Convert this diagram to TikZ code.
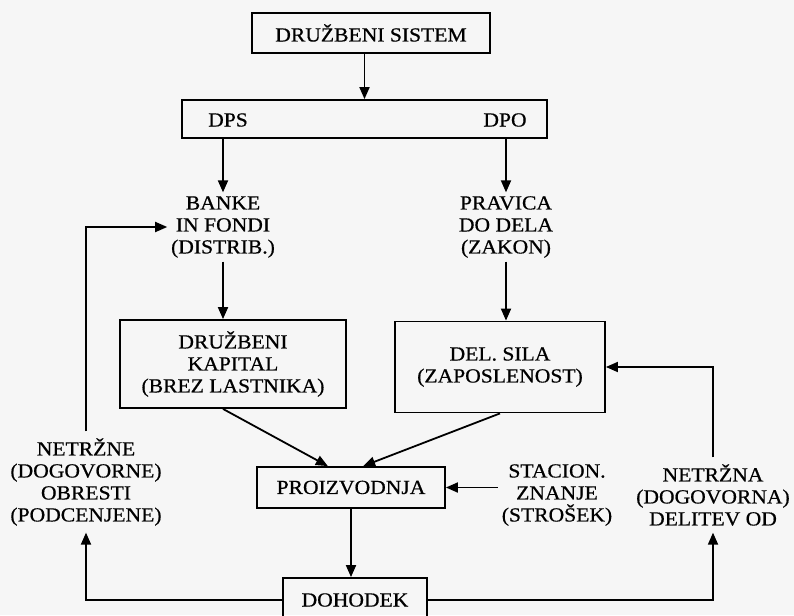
\documentclass[tikz,border=0pt]{standalone}
\usepackage{fontspec}
\setmainfont{Liberation Serif}[FakeStretch=1.08,FakeBold=0.6]
\usetikzlibrary{arrows.meta,calc}
\begin{document}
\begin{tikzpicture}[x=1pt,y=-1pt,
  font=\fontsize{20}{22}\selectfont,
  line width=1.8pt,
  box/.style={draw,rectangle,inner sep=2pt},
  lbl/.style={align=center,inner sep=3pt},
  arr/.style={-{Triangle[length=12pt,width=10pt]}},
  ]
\fill[gray!7] (0,0) rectangle (794,615);
\useasboundingbox (0,0) rectangle (794,615);

\node[box,minimum width=238,minimum height=40] (sis) at (371,33) {DRUŽBENI SISTEM};
\node[box,minimum width=365,minimum height=38] (gov) at (364.5,119) {};
\node[inner sep=0pt] (dps) at (228,120) {DPS};
\node[inner sep=0pt] (dpo) at (505,120) {DPO};

\node[lbl] (banke) at (223,227) {BANKE\\IN FONDI\\(DISTRIB.)};
\node[lbl] (pravica) at (506,227) {PRAVICA\\DO DELA\\(ZAKON)};

\node[box,align=center,minimum width=226,minimum height=88] (dk) at (233,364) {DRUŽBENI\\KAPITAL\\(BREZ LASTNIKA)};
\node[box,align=center,minimum width=210,minimum height=91] (ds) at (500,367) {DEL. SILA\\(ZAPOSLENOST)};

\node[box,minimum width=188,minimum height=41] (proiz) at (351,487.5) {PROIZVODNJA};
\node[lbl] (stacion) at (557,495) {STACION.\\ZNANJE\\(STROŠEK)};
\node[lbl,inner sep=6pt] (netrzna) at (713,495) {NETRŽNA\\(DOGOVORNA)\\DELITEV OD};
\node[lbl,inner sep=6pt] (netrzne) at (86,482) {NETRŽNE\\(DOGOVORNE)\\OBRESTI\\(PODCENJENE)};

\node[box,minimum width=144,minimum height=44] (doh) at (355,600) {DOHODEK};

% connectors
\draw[arr] (sis.south -| gov.north) -- (gov.north);
\draw[arr] (banke.north |- gov.south) -- (banke.north);
\draw[arr] (pravica.north |- gov.south) -- (pravica.north);
\draw[arr] (banke.south) -- (banke.south |- dk.north);
\draw[arr] (pravica.south) -- (pravica.south |- ds.north);
\draw[arr] ($(dk.south west)!0.456!(dk.south east)$) -- ($(proiz.north west)!0.378!(proiz.north east)$);
\draw[arr] (ds.south) -- ($(proiz.north west)!0.564!(proiz.north east)$);
\draw[arr] (stacion.west |- proiz.east) -- (proiz.east);
\draw[arr] (netrzna.north) |- (ds.east);
\draw[arr] (netrzne.north) |- (banke.west);
\draw[arr] (proiz.south) -- (proiz.south |- doh.north);
\draw[arr] (doh.west) -| (netrzne.south);
\draw[arr] (doh.east) -| (netrzna.south);
\end{tikzpicture}
\end{document}
